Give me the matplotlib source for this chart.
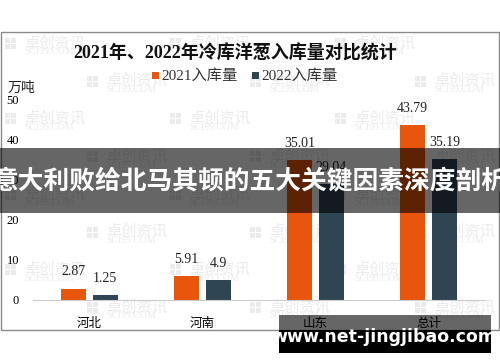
import matplotlib
matplotlib.use("Agg")
import matplotlib.pyplot as plt
from matplotlib.patches import Rectangle
import numpy as np

plt.rcParams['font.family'] = ['Liberation Serif', 'Noto Sans CJK SC', 'DejaVu Sans']

categories = ['河北', '河南', '山东', '总计']
values_2021 = [2.87, 5.91, 35.01, 43.79]
values_2022 = [1.25, 4.9, 29.04, 35.19]
series_names = ['2021入库量', '2022入库量']
y_ticks = [0, 10, 20, 30, 40, 50]

title = '2021年、2022年冷库洋葱入库量对比统计'
banner_text = '意大利败给北马其顿的五大关键因素深度剖析'
site_text = 'www.net-jingjibao.com'

ORANGE = '#e8550c'
SLATE = '#2f4554'
W, H = 500, 362


def px_axes(fig, zorder):
    ax = fig.add_axes([0, 0, 1, 1], zorder=zorder)
    ax.set_xlim(0, W)
    ax.set_ylim(H, 0)
    ax.axis('off')
    ax.patch.set_alpha(0)
    return ax


def draw_watermark(ax, x, y):
    c = '#ebebeb'
    for dx, dy in [(0, 0), (6, 0), (0, 6), (6, 6)]:
        ax.add_patch(Rectangle((x + dx, y + dy), 5, 5, color=c, lw=0))
    ax.text(x + 19, y + 5, '卓创资讯', fontsize=11, color=c, va='center', ha='left',
            family=['Noto Sans CJK SC'])
    ax.text(x + 19, y + 14, 'SCI99.COM', fontsize=7, color=c, va='center', ha='left',
            family=['Liberation Serif'])


fig = plt.figure(figsize=(5, 3.62), dpi=100)

# background: frame + watermarks
bg = px_axes(fig, 0)
bg.add_patch(Rectangle((1, 32), 498, 298, fill=False, ec='#8a8a8a', lw=1))
for i in range(8):
    y = 38 + 37.7 * i
    xs = [5, 170, 335] if i % 2 == 0 else [87, 250, 415]
    for x in xs:
        draw_watermark(bg, x, y)

# chart
ax = fig.add_axes([33 / W, (H - 300) / H, 452 / W, 200 / H], zorder=1)
ax.patch.set_alpha(0)
x = np.arange(len(categories))
bw = 0.22
off = 0.14
b1 = ax.bar(x - off, values_2021, bw, color=ORANGE, label=series_names[0])
b2 = ax.bar(x + off, values_2022, bw, color=SLATE, label=series_names[1])
for bars, vals in [(b1, values_2021), (b2, values_2022)]:
    for rect, v in zip(bars, vals):
        ax.annotate(f'{v:g}', (rect.get_x() + rect.get_width() / 2, v),
                    xytext=(0, 12), textcoords='offset points',
                    ha='center', va='center', fontsize=10, color='#222222')
ax.set_xlim(-0.5, 3.5)
ax.set_ylim(0, 50)
ax.set_yticks(y_ticks)
ax.set_xticks(x)
ax.set_xticklabels(categories, fontsize=9)
ax.tick_params(axis='x', length=0, pad=13)
ax.tick_params(axis='y', length=0, pad=10, labelsize=9)
for s in ['top', 'right', 'left']:
    ax.spines[s].set_visible(False)
ax.spines['bottom'].set_color('#cccccc')

# titles and legend
ov = px_axes(fig, 2)
ov.text(235, 53, title, fontsize=13, fontweight='bold', ha='center', va='center',
        color='#111111')
ov.text(8, 88, '万吨', fontsize=10, ha='left', va='center', color='#222222')
ov.add_patch(Rectangle((152, 72), 7, 7, color=ORANGE, lw=0))
ov.text(161, 76, series_names[0], fontsize=11, ha='left', va='center', color='#333333')
ov.add_patch(Rectangle((252, 72), 7, 7, color=SLATE, lw=0))
ov.text(261, 76, series_names[1], fontsize=11, ha='left', va='center', color='#333333')

# overlay banner
ov.add_patch(Rectangle((0, 148), W, 65, color='black', alpha=0.6, lw=0))
ov.text(250, 181, banner_text, fontsize=18.5, fontweight='bold', color='white',
        ha='center', va='center', family=['Noto Sans CJK SC'])

# site box
ov.add_patch(Rectangle((279, 315), 212, 15, color='black', alpha=0.6, lw=0))
ov.add_patch(Rectangle((279, 330), 212, 23, color='black', lw=0))
ov.text(384, 337, site_text, fontsize=12.5, fontweight='bold', color='white',
        ha='center', va='center', family=['DejaVu Sans'])

fig.savefig('out.png', dpi=100)
